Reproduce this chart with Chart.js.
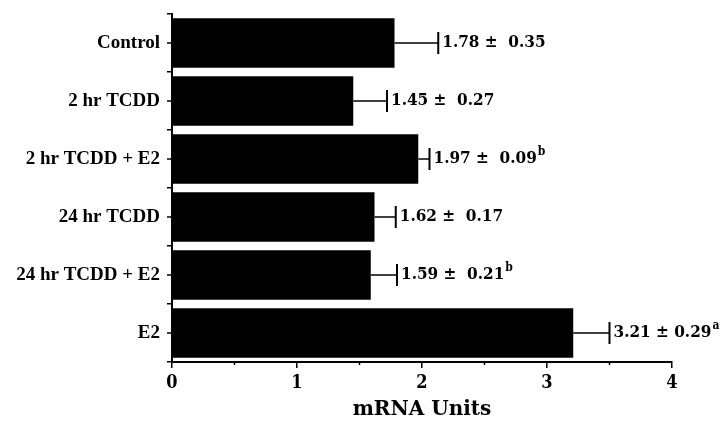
<!DOCTYPE html>
<html>
<head>
<meta charset="utf-8">
<script src="https://cdn.jsdelivr.net/npm/chart.js@4"></script>
<style>
  html, body { margin: 0; padding: 0; background: #fff; }
  #wrap { width: 725px; height: 422px; }
</style>
</head>
<body>
<div id="wrap"><canvas id="c" width="725" height="422"></canvas></div>
<script>
// ── data ──
const groups = ['Control', '2 hr TCDD', '2 hr TCDD + E2', '24 hr TCDD', '24 hr TCDD + E2', 'E2'];
const means  = [1.78, 1.45, 1.97, 1.62, 1.59, 3.21];
const sds    = [0.35, 0.27, 0.09, 0.17, 0.21, 0.29];
const valueText = ['1.78 \u00b1  0.35', '1.45 \u00b1  0.27', '1.97 \u00b1  0.09', '1.62 \u00b1  0.17', '1.59 \u00b1  0.21', '3.21 \u00b1 0.29'];
const marks  = ['', '', 'b', '', 'b', 'a'];
const xTicks = [0, 1, 2, 3, 4];
const xMinor = [0.5, 1.5, 2.5, 3.5];

const SERIF = "'DejaVu Serif Condensed', 'DejaVu Serif', serif";
const VALUE_FONT = "bold 17px " + SERIF;

// error bars, value labels and the extra axis ticks
const errPlugin = {
  id: 'errBars',
  afterDatasetsDraw(chart) {
    const { ctx: cx, scales: { x, y } } = chart;
    const meta = chart.getDatasetMeta(0);
    cx.save();
    cx.strokeStyle = '#000';
    cx.fillStyle = '#000';
    meta.data.forEach((bar, i) => {
      const x0 = x.getPixelForValue(means[i]);
      const x1 = x.getPixelForValue(means[i] + sds[i]);
      const yc = bar.y;
      cx.lineWidth = 1.5;
      cx.beginPath(); cx.moveTo(x0, yc); cx.lineTo(x1, yc); cx.stroke();
      cx.lineWidth = 2;
      cx.beginPath(); cx.moveTo(x1, yc - 11); cx.lineTo(x1, yc + 11); cx.stroke();
      // label
      const txt = valueText[i];
      cx.font = VALUE_FONT;
      cx.textBaseline = 'middle';
      cx.textAlign = 'left';
      cx.fillText(txt, x1 + 4, yc);
      if (marks[i]) {
        const w = cx.measureText(txt).width;
        cx.font = "bold 12px " + SERIF;
        cx.fillText(marks[i], x1 + 5 + w, yc - 7);
      }
    });
    // y ticks at category centres
    cx.lineWidth = 1.5;
    meta.data.forEach(bar => {
      cx.beginPath(); cx.moveTo(x.left - 5, bar.y); cx.lineTo(x.left, bar.y); cx.stroke();
    });
    // minor x ticks at half units
    xMinor.forEach(v => {
      const px = x.getPixelForValue(v);
      cx.beginPath(); cx.moveTo(px, y.bottom); cx.lineTo(px, y.bottom + 3); cx.stroke();
    });
    cx.restore();
  }
};

new Chart(document.getElementById('c').getContext('2d'), {
  type: 'bar',
  data: {
    labels: groups,
    datasets: [{
      data: means,
      backgroundColor: '#000',
      borderWidth: 0,
      barPercentage: 0.85,
      categoryPercentage: 1
    }]
  },
  options: {
    indexAxis: 'y',
    responsive: false,
    animation: false,
    layout: { padding: { top: 14, right: 53, left: 0, bottom: 0 } },
    plugins: { legend: { display: false }, tooltip: { enabled: false } },
    scales: {
      y: {
        afterFit(s) { s.width = 172; s.paddingTop = 0; s.paddingBottom = 0; },
        border: { color: '#000', width: 2 },
        grid: { display: true, drawOnChartArea: false, offset: true, color: '#000', lineWidth: 1.5, tickLength: 5 },
        ticks: { color: '#000', font: { family: "'Liberation Serif', serif", size: 19, weight: 'bold' }, padding: 7 }
      },
      x: {
        min: 0, max: 4,
        afterFit(s) { s.height = 60; },
        afterBuildTicks(s) { s.ticks = xTicks.map(v => ({ value: v })); },
        border: { color: '#000', width: 2 },
        grid: { display: true, drawOnChartArea: false, color: '#000', lineWidth: 1.5, tickLength: 6 },
        ticks: { color: '#000', font: { family: SERIF, size: 18, weight: 'bold' }, padding: 5 },
        title: { display: true, text: 'mRNA Units', color: '#000', font: { family: "'DejaVu Serif', serif", size: 20, weight: 'bold' }, padding: { top: 0, bottom: 0 } }
      }
    }
  },
  plugins: [errPlugin]
});
</script>
</body>
</html>
